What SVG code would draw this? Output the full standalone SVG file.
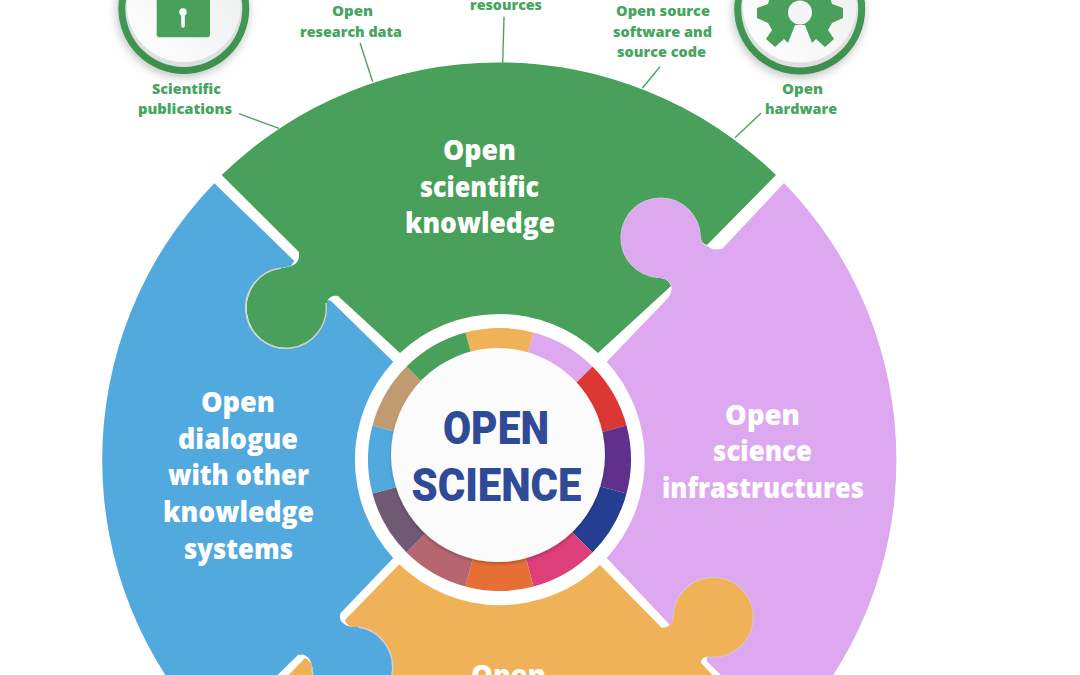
<svg xmlns="http://www.w3.org/2000/svg" width="1080" height="675" viewBox="0 0 1080 675">
<style>
.lb{font-family:"Open Sans","Liberation Sans",sans-serif;font-weight:800;font-size:14.5px;fill:#46a560;text-anchor:middle}
.big{font-family:"Open Sans","Liberation Sans",sans-serif;font-weight:800;font-size:28px;fill:#fff;text-anchor:middle}
.ttl{font-family:Roboto,"Liberation Sans",sans-serif;font-weight:900;font-size:47px;fill:#2f4a96;text-anchor:middle}
.cn{stroke:#4aa561;stroke-width:1.4;fill:none}
.kn{stroke:#cfd2d0;stroke-width:1.5;fill:none}
.ring{fill:url(#rg);filter:url(#sh)}
.crs{fill:#dedfdf}
.face{fill:url(#fg)}
.ic{fill:#48a05a}
</style>
<defs>
<filter id="sh" x="-30%" y="-30%" width="160%" height="160%"><feDropShadow dx="-1" dy="3" stdDeviation="5" flood-color="#000" flood-opacity=".25"/></filter>
<filter id="ds" x="-10%" y="-10%" width="120%" height="120%"><feDropShadow dx="0" dy="2" stdDeviation="1.5" flood-color="#000" flood-opacity=".22"/></filter>
<linearGradient id="rg" x1="0" y1="0" x2="0" y2="1"><stop offset="0" stop-color="#4aa35c"/><stop offset="1" stop-color="#3c8f4e"/></linearGradient>
<linearGradient id="fg" x1="0" y1="1" x2="1" y2="0"><stop offset="0" stop-color="#fff"/><stop offset="1" stop-color="#ebecec"/></linearGradient>
</defs>
<rect width="1080" height="675" fill="#fff"/>
<g id="piece-orange">
<path fill="#f0b258" d="M399.3,564.3A144.6,144.6 0 0 0 600,565L661.7,627.7C666,628 672,626 673,617A40.3,40.3 0 1 1 707,657C703,657 701,660 701,663L777,744A397.5,397.5 0 0 1 222,744L305,658C309,660 312,663 312,667L358,627C352,627 347,627 345,620Z"/>
<path class="kn" d="M673,617A40.3,40.3 0 1 1 707,657"/>
<text class="big" x="508.5" y="685" textLength="75" lengthAdjust="spacingAndGlyphs">Open</text>
</g>
<g id="piece-blue">
<path fill="#52a9de" d="M214.3,183.3L294.3,261L291,266L281,268A40.3,40.3 0 1 0 326,303L326.5,301L330,300L393.3,361.7A144.6,144.6 0 0 0 393.3,558L340.7,613C339,617 340,621 343,623C347,627 352,627 358,627A40.3,40.3 0 1 1 312,667L311.7,665C311,660 308,656 303,654.5L298,655L214.3,736.7A397.5,397.5 0 0 1 214.3,183.3Z"/>
<path class="kn" d="M358,627A40.3,40.3 0 1 1 312,667"/>
<text class="big" x="238" y="412" textLength="74" lengthAdjust="spacingAndGlyphs">Open</text>
<text class="big" x="238" y="449" textLength="120" lengthAdjust="spacingAndGlyphs">dialogue</text>
<text class="big" x="238.500" y="485" textLength="141" lengthAdjust="spacingAndGlyphs">with other</text>
<text class="big" x="238.500" y="522" textLength="151" lengthAdjust="spacingAndGlyphs">knowledge</text>
<text class="big" x="238.500" y="559" textLength="109" lengthAdjust="spacingAndGlyphs">systems</text>
</g>
<g id="piece-lilac">
<path fill="#dea8f0" d="M784,183A397.5,397.5 0 0 1 784,737L706.700,661L707,657A40.3,40.3 0 1 0 673,617L672,624L670,625L606.700,558A145.500,145.500 0 0 0 606.700,361.700L668,298C673,292 673,283 667,280C664,278 661,278 658,278A40.3,40.3 0 1 1 701,237C701,241 703,245 707,246L713,249.500L722,249Z"/>
<path class="kn" d="M658,278A40.3,40.3 0 1 1 701,237"/>
<line x1="673" y1="296" x2="722" y2="249" stroke="#e2aff2" stroke-width="1"/>
<text class="big" x="762.500" y="425" textLength="75" lengthAdjust="spacingAndGlyphs">Open</text>
<text class="big" x="762.500" y="461" textLength="99" lengthAdjust="spacingAndGlyphs">science</text>
<text class="big" x="763" y="498" textLength="202" lengthAdjust="spacingAndGlyphs">infrastructures</text>
</g>
<g id="piece-green">
<path fill="#48a05a" d="M221.700,175A397.500,397.500 0 0 1 776,175L707,245C703,244 701,241 701,237A40.300,40.300 0 1 0 658,278C664,278 669,280 671,286L598,353A145,145 0 0 0 400,353L338,296C333,295 328,297 327,303A40.300,40.300 0 1 1 281,268C288,267 296,267 299,258L299,252Z"/>
<path class="kn" d="M326,303A40.300,40.300 0 1 1 281,268"/>
<text class="big" x="479.500" y="160" textLength="73" lengthAdjust="spacingAndGlyphs">Open</text>
<text class="big" x="479.500" y="197" textLength="119" lengthAdjust="spacingAndGlyphs">scientific</text>
<text class="big" x="480" y="233" textLength="150" lengthAdjust="spacingAndGlyphs">knowledge</text>
</g>
<g id="hub">
<path fill="#f0b258" d="M499.500,459.500L465.470,332.480A131.500,131.500 0 0 1 533.530,332.480Z"/>
<path fill="#dea8f0" d="M499.500,459.500L533.530,332.480A131.500,131.500 0 0 1 592.480,366.520Z"/>
<path fill="#dc3732" d="M499.500,459.500L592.480,366.520A131.500,131.500 0 0 1 626.520,425.470Z"/>
<path fill="#5f318c" d="M499.500,459.500L626.520,425.470A131.500,131.500 0 0 1 626.520,493.530Z"/>
<path fill="#243f92" d="M499.500,459.500L626.520,493.530A131.500,131.500 0 0 1 592.480,552.480Z"/>
<path fill="#dc3f7a" d="M499.500,459.500L592.480,552.480A131.500,131.500 0 0 1 533.530,586.520Z"/>
<path fill="#e56f35" d="M499.500,459.500L533.530,586.520A131.500,131.500 0 0 1 465.470,586.520Z"/>
<path fill="#b5666f" d="M499.500,459.500L465.470,586.520A131.500,131.500 0 0 1 406.520,552.480Z"/>
<path fill="#705a73" d="M499.500,459.500L406.520,552.480A131.500,131.500 0 0 1 372.480,493.530Z"/>
<path fill="#52a9de" d="M499.500,459.500L372.480,493.530A131.500,131.500 0 0 1 372.480,425.470Z"/>
<path fill="#c09b72" d="M499.500,459.500L372.480,425.470A131.500,131.500 0 0 1 406.520,366.520Z"/>
<path fill="#48a05a" d="M499.500,459.500L406.520,366.520A131.500,131.500 0 0 1 465.470,332.480Z"/>
<circle cx="498" cy="455" r="107" fill="#fbfbfb" filter="url(#ds)"/>
<text class="ttl" x="496" y="444" textLength="106" lengthAdjust="spacingAndGlyphs">OPEN</text>
<text class="ttl" x="496.500" y="500.500" textLength="170" lengthAdjust="spacingAndGlyphs">SCIENCE</text>
</g>
<g id="connectors">
<line class="cn" x1="239" y1="113.700" x2="279" y2="128.300"/>
<line class="cn" x1="360" y1="42.700" x2="372.700" y2="81.700"/>
<line class="cn" x1="504" y1="16.700" x2="502.700" y2="63"/>
<line class="cn" x1="660" y1="66.700" x2="642.300" y2="88.300"/>
<line class="cn" x1="761" y1="113.300" x2="735" y2="137.700"/>
</g>
<g id="badge-research-data">
<circle class="ring" cx="340" cy="-66" r="65.500"/>
</g>
<g id="badge-publications">
<circle class="ring" cx="183.800" cy="8.500" r="65.500"/>
<circle class="crs" cx="183.800" cy="8.500" r="58.500"/>
<circle class="face" cx="183.800" cy="5" r="57"/>
<rect class="ic" x="156.700" y="-15" width="53.300" height="52.300" rx="3"/>
<circle cx="183" cy="12" r="3.800" fill="#fff"/>
<path d="M183,12V26" stroke="#fff" stroke-width="3.600" stroke-linecap="round"/>
</g>
<g id="badge-hardware">
<circle class="ring" cx="799.700" cy="9" r="65.500"/>
<circle class="crs" cx="799.700" cy="9" r="58.500"/>
<circle class="face" cx="799.700" cy="5.500" r="57"/>
<path class="ic" d="M772,-10L768,4L757,8L757,18L768,23L772,30L766,39L775,47L784,39L788,43L795,25L805,25L812,43L816,39L825,47L834,39L828,30L832,23L843,18L843,8L832,4L828,-10Z"/>
<circle cx="800" cy="12.500" r="12" fill="#f4f5f5"/>
</g>
<g id="labels">
<text class="lb" x="186.500" y="94" textLength="69" lengthAdjust="spacingAndGlyphs">Scientific</text>
<text class="lb" x="185" y="114" textLength="94" lengthAdjust="spacingAndGlyphs">publications</text>
<text class="lb" x="352.500" y="16" textLength="41" lengthAdjust="spacingAndGlyphs">Open</text>
<text class="lb" x="351" y="36.500" textLength="102" lengthAdjust="spacingAndGlyphs">research data</text>
<text class="lb" x="506" y="10" textLength="72" lengthAdjust="spacingAndGlyphs">resources</text>
<text class="lb" x="663" y="16" textLength="94" lengthAdjust="spacingAndGlyphs">Open source</text>
<text class="lb" x="662.500" y="36.500" textLength="99" lengthAdjust="spacingAndGlyphs">software and</text>
<text class="lb" x="661.500" y="56.500" textLength="89" lengthAdjust="spacingAndGlyphs">source code</text>
<text class="lb" x="802.500" y="94" textLength="41" lengthAdjust="spacingAndGlyphs">Open</text>
<text class="lb" x="801" y="114" textLength="72" lengthAdjust="spacingAndGlyphs">hardware</text>
</g>
</svg>
